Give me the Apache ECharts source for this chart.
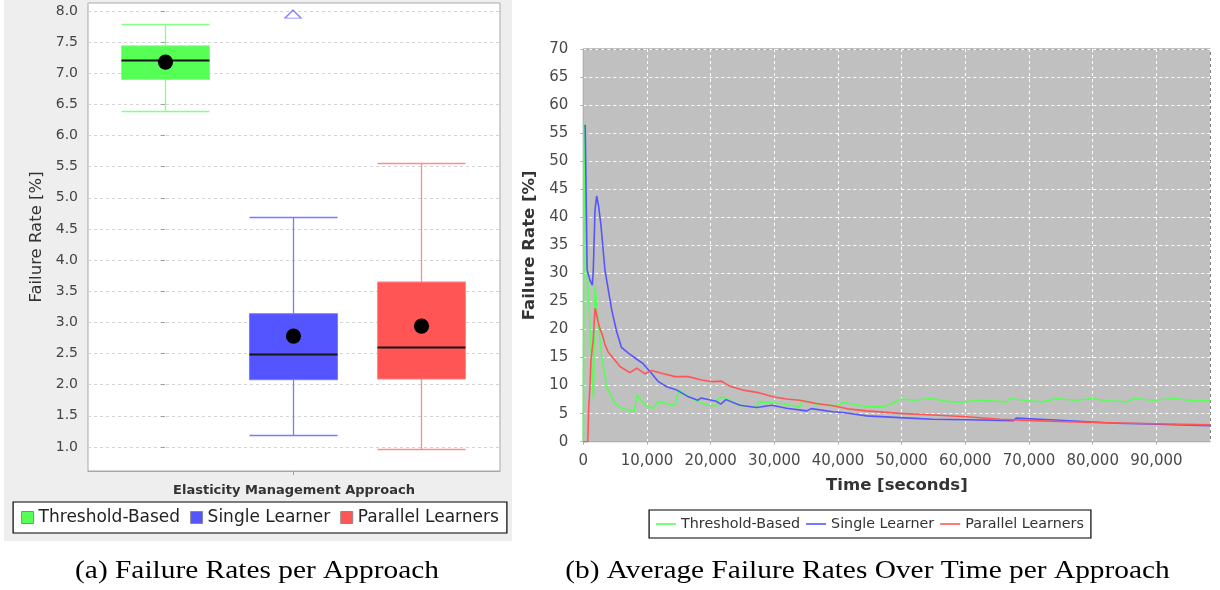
<!DOCTYPE html>
<html>
<head>
<meta charset="utf-8">
<script src="https://cdn.jsdelivr.net/npm/echarts@6/dist/echarts.min.js"></script>
<style>
  html, body { margin: 0; padding: 0; background: #ffffff; }
  #boxChart { position: absolute; left: 0; top: 0; width: 520px; height: 590px; }
  #lineChart { position: absolute; left: 520px; top: 0; width: 700px; height: 590px; }
</style>
</head>
<body>
<div id="boxChart"></div>
<div id="lineChart"></div>
<script>
// ---- Data: failure rate distribution per approach (%) ----
const approaches = ['Threshold-Based', 'Single Learner', 'Parallel Learners'];
const whiskerLow  = [6.39, 1.20, 0.965];
const quartile1   = [6.90, 2.08, 2.09];
const medianRate  = [7.22, 2.49, 2.61];
const quartile3   = [7.44, 3.14, 3.65];
const whiskerHigh = [7.79, 4.70, 5.56];
const meanRate    = [7.18, 2.78, 2.94];
// far-out value of Single Learner lying above the visible range
const farOutSingleLearner = [7.95];

// ---- Data: average failure rate over time, [time (s), failure rate (%)] ----
const thresholdBased = [
  [0, 0], [150, 56.6], [500, 32], [800, 26.5], [1050, 20.5], [1300, 14.6], [1570, 7.7],
  [1840, 27.9], [2350, 21.1], [2900, 15.2], [3670, 9.8], [4980, 6.8], [6000, 5.95],
  [8000, 5.35], [8400, 8.3], [9800, 6.5], [11000, 5.95], [11700, 7.1], [14400, 6.5],
  [15000, 9.2], [17500, 7.4], [19600, 6.5], [20900, 6.4], [21300, 7.9], [22400, 7.8],
  [23800, 6.8], [25100, 6.4], [27200, 6.1], [27600, 7.1], [28800, 7.0], [31000, 6.8],
  [34000, 6.2], [34300, 7.4], [36600, 6.7], [39800, 6.4], [40800, 7.0], [42900, 6.6],
  [44500, 6.2], [46800, 6.2], [47900, 6.5], [50000, 7.6], [51800, 7.4], [54700, 7.7],
  [57600, 7.1], [60200, 7.1], [61700, 7.4], [66500, 7.1], [67000, 7.7], [69800, 7.3],
  [72200, 7.1], [74300, 7.7], [77400, 7.4], [80000, 7.7], [82200, 7.3], [85300, 7.1],
  [86600, 7.7], [89500, 7.4], [92900, 7.7], [95700, 7.3], [98500, 7.3]
];
const singleLearner = [
  [300, 56.5], [600, 30.6], [1050, 28.8], [1420, 27.9], [1570, 30.6], [1840, 41.3],
  [2100, 43.8], [2400, 42.0], [2780, 38.5], [3400, 30.6], [3670, 28.8], [4460, 23.5],
  [5240, 19.6], [6000, 16.8], [7070, 15.8], [8400, 14.7], [9400, 13.9], [10700, 12.2],
  [11800, 10.7], [13100, 9.8], [14700, 9.2], [16500, 8.0], [18000, 7.4], [18500, 7.8],
  [20900, 7.2], [21600, 6.7], [22400, 7.5], [24600, 6.5], [27200, 6.1], [29600, 6.5],
  [31900, 5.95], [35100, 5.5], [35800, 5.9], [39200, 5.35], [40800, 5.2], [44500, 4.6],
  [49700, 4.3], [54900, 4.0], [60200, 3.9], [67500, 3.75], [68000, 4.2], [73300, 3.9],
  [78500, 3.6], [83700, 3.3], [89000, 3.15], [94200, 3.0], [98500, 2.85]
];
const parallelLearners = [
  [0, 0], [700, 0], [850, 6], [1050, 10], [1200, 14.6], [1350, 14.3], [1550, 18],
  [1840, 23.8], [2000, 23.2], [2300, 21.5], [2600, 20.2], [3000, 19.0], [3400, 17.3],
  [3900, 16.0], [4700, 14.9], [5760, 13.4], [7300, 12.3], [8400, 13.1], [9700, 12.1],
  [10700, 12.7], [12300, 12.2], [14400, 11.6], [16500, 11.6], [18600, 11.0], [20400, 10.7],
  [21700, 10.8], [23000, 9.9], [25100, 9.2], [27700, 8.7], [29800, 8.0], [31900, 7.6],
  [34000, 7.4], [36600, 6.8], [39200, 6.4], [41900, 5.8], [44500, 5.5], [49700, 5.05],
  [54900, 4.75], [60200, 4.45], [65400, 4.0], [70600, 3.75], [75900, 3.55], [81100, 3.4],
  [86300, 3.3], [91600, 3.15], [98500, 3.0]
];

// ---- Styles ----
const fillColors = ['#55ff55', '#5555ff', '#ff5555'];
const whiskerColors = ['#86ff86', '#7a7aff', '#ff8c8c'];
const uiFont = '"DejaVu Sans", "Noto Sans", sans-serif';
const captionFont = '"Liberation Serif", "DejaVu Serif", serif';

// ---------- (a) box-and-whisker chart ----------
function makeBoxRenderer(idx) {
  return function (params, api) {
    const x = api.value(0);
    const half = api.size([1, 0])[0] * 0.344;
    const cx = Math.round(api.coord([x, api.value(3)])[0]) + 0.5;
    const yLow = Math.round(api.coord([x, api.value(1)])[1]) + 0.5;
    const yQ1 = api.coord([x, api.value(2)])[1];
    const yMed = Math.round(api.coord([x, api.value(3)])[1]) + 0.5;
    const yQ3 = api.coord([x, api.value(4)])[1];
    const yHigh = Math.round(api.coord([x, api.value(5)])[1]) + 0.5;
    const yMean = api.coord([x, api.value(6)])[1];
    const w = whiskerColors[idx];
    const wStyle = { stroke: w, lineWidth: 1.3 };
    return {
      type: 'group',
      children: [
        { type: 'line', shape: { x1: cx, y1: yQ3, x2: cx, y2: yHigh }, style: wStyle },
        { type: 'line', shape: { x1: cx, y1: yQ1, x2: cx, y2: yLow }, style: wStyle },
        { type: 'line', shape: { x1: cx - half, y1: yHigh, x2: cx + half, y2: yHigh }, style: wStyle },
        { type: 'line', shape: { x1: cx - half, y1: yLow, x2: cx + half, y2: yLow }, style: wStyle },
        { type: 'rect', shape: { x: cx - half, y: yQ3, width: 2 * half, height: yQ1 - yQ3 },
          style: { fill: api.visual('color'), stroke: w, lineWidth: 1 } },
        { type: 'line', shape: { x1: cx - half, y1: yMed, x2: cx + half, y2: yMed },
          style: { stroke: '#151515', lineWidth: 1.8 } },
        { type: 'circle', shape: { cx: cx, cy: yMean, r: 7.6 }, style: { fill: '#000000' } }
      ]
    };
  };
}

const boxSeries = approaches.map(function (name, i) {
  return {
    type: 'custom',
    name: name,
    coordinateSystem: 'cartesian2d',
    itemStyle: { color: fillColors[i] },
    encode: { x: 0, y: [1, 2, 3, 4, 5, 6] },
    data: [[i, whiskerLow[i], quartile1[i], medianRate[i], quartile3[i], whiskerHigh[i], meanRate[i]]],
    renderItem: makeBoxRenderer(i),
    z: 3
  };
});
boxSeries.push({
  type: 'scatter',
  name: 'far out',
  data: farOutSingleLearner.map(function (v) { return [1, v]; }),
  symbol: 'triangle',
  symbolSize: [16, 8],
  itemStyle: { color: 'rgba(0,0,0,0)', borderColor: '#6060ff', borderWidth: 1.3 },
  z: 4,
  silent: true
});

const boxChart = echarts.init(document.getElementById('boxChart'), null, { renderer: 'canvas' });
boxChart.setOption({
  animation: false,
  graphic: [
    { type: 'rect', z: -10, shape: { x: 4, y: 0, width: 508, height: 541 }, style: { fill: '#eeeeee' } },
    { type: 'text', x: 257, y: 571, scaleX: 1.13,
      style: { text: '(a) Failure Rates per Approach', x: 0, y: 0, fill: '#000',
        font: '26px ' + captionFont, textAlign: 'center', textVerticalAlign: 'middle' } }
  ],
  grid: {
    left: 88, right: 20, top: 3, bottom: 119,
    outerBoundsMode: 'none',
    show: true, backgroundColor: '#ffffff', borderColor: '#a8a8a8', borderWidth: 1
  },
  legend: {
    data: approaches,
    top: 502, left: 'center',
    orient: 'horizontal',
    icon: 'rect',
    itemWidth: 12, itemHeight: 12, itemGap: 10,
    padding: [7, 8],
    borderColor: '#000000', borderWidth: 1.2,
    backgroundColor: '#ffffff',
    itemStyle: { borderColor: '#8a8a8a', borderWidth: 1 },
    textStyle: { fontFamily: uiFont, fontSize: 17, color: '#222' },
    selectedMode: false
  },
  xAxis: {
    type: 'value',
    min: -0.6016, max: 2.617,
    axisLine: { show: true, lineStyle: { color: '#a8a8a8' } },
    axisTick: { show: true, customValues: [1], length: 4, lineStyle: { color: '#a0a0a0' } },
    axisLabel: { show: false },
    splitLine: { show: false },
    name: 'Elasticity Management Approach',
    nameLocation: 'middle',
    nameGap: 13,
    nameTextStyle: { fontFamily: uiFont, fontSize: 13, fontWeight: 'bold', color: '#333', verticalAlign: 'top' }
  },
  yAxis: {
    type: 'value',
    min: 0.6147, max: 8.128,
    splitNumber: 15,
    axisLine: { show: false },
    axisTick: { show: true, length: 4, lineStyle: { color: '#a0a0a0' } },
    axisLabel: {
      fontFamily: uiFont, fontSize: 14, color: '#444', margin: 10,
      showMinLabel: false, showMaxLabel: false,
      formatter: function (v) { return v.toFixed(1); }
    },
    splitLine: { show: true, lineStyle: { color: '#d4d4d4', type: [3, 3], width: 1 } },
    name: 'Failure Rate [%]',
    nameLocation: 'middle',
    nameRotate: 90,
    nameGap: 42,
    nameTextStyle: { fontFamily: uiFont, fontSize: 16.5, color: '#333' }
  },
  series: boxSeries
});

// ---------- (b) failure rate over time ----------
const lineSeries = [
  { name: approaches[0], data: thresholdBased, color: fillColors[0] },
  { name: approaches[1], data: singleLearner, color: fillColors[1] },
  { name: approaches[2], data: parallelLearners, color: fillColors[2] }
].map(function (s) {
  return {
    type: 'line',
    name: s.name,
    data: s.data,
    symbol: 'none',
    showSymbol: false,
    smooth: false,
    itemStyle: { color: s.color },
    lineStyle: { color: s.color, width: 1.6 },
    clip: true
  };
});

const lineChart = echarts.init(document.getElementById('lineChart'), null, { renderer: 'canvas' });
lineChart.setOption({
  animation: false,
  graphic: [
    { type: 'text', x: 347.5, y: 571, scaleX: 1.13,
      style: { text: '(b) Average Failure Rates Over Time per Approach', x: 0, y: 0, fill: '#000',
        font: '26px ' + captionFont, textAlign: 'center', textVerticalAlign: 'middle' } }
  ],
  grid: {
    left: 63.3, right: 9.5, top: 49, bottom: 148.3,
    outerBoundsMode: 'none',
    show: true, backgroundColor: '#c0c0c0', borderColor: '#808080', borderWidth: 1
  },
  legend: {
    data: approaches,
    top: 510, left: 'center',
    icon: 'rect',
    itemWidth: 20, itemHeight: 1.6, itemGap: 6,
    padding: [7, 7],
    borderColor: '#000000', borderWidth: 1.2,
    backgroundColor: '#ffffff',
    textStyle: { fontFamily: uiFont, fontSize: 14.3, color: '#333' },
    selectedMode: false
  },
  xAxis: {
    type: 'value',
    min: 0, max: 98500, interval: 10000,
    offset: 5,
    axisLine: { show: true, lineStyle: { color: '#b0b0b0' } },
    axisTick: { show: true, length: 3, lineStyle: { color: '#b0b0b0' } },
    axisLabel: {
      fontFamily: uiFont, fontSize: 15, color: '#4a4a4a', margin: 7,
      showMaxLabel: false,
      formatter: function (v) { return v.toLocaleString('en-US'); }
    },
    splitLine: { show: true, lineStyle: { color: '#ffffff', type: [3, 3], width: 1 } },
    name: 'Time [seconds]',
    nameLocation: 'middle',
    nameGap: 31,
    nameTextStyle: { fontFamily: uiFont, fontSize: 16.5, fontWeight: 'bold', color: '#333', verticalAlign: 'top' }
  },
  yAxis: {
    type: 'value',
    min: 0, max: 70, interval: 5,
    offset: 7,
    axisLine: { show: true, lineStyle: { color: '#b0b0b0' } },
    axisTick: { show: true, length: 3, lineStyle: { color: '#b0b0b0' } },
    axisLabel: { fontFamily: uiFont, fontSize: 15, color: '#4a4a4a', margin: 8 },
    splitLine: { show: true, lineStyle: { color: '#ffffff', type: [3, 3], width: 1 } },
    name: 'Failure Rate [%]',
    nameLocation: 'middle',
    nameRotate: 90,
    nameGap: 31,
    nameTextStyle: { fontFamily: uiFont, fontSize: 16.5, fontWeight: 'bold', color: '#333' }
  },
  series: lineSeries
});
</script>
</body>
</html>
